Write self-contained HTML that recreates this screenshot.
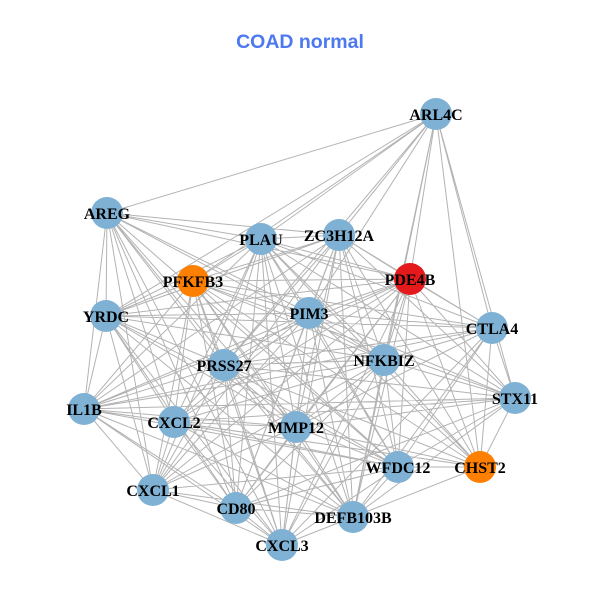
<!DOCTYPE html>
<html><head><meta charset="utf-8"><style>
html,body{margin:0;padding:0;background:#fff;}
svg{display:block;}
.l{font-family:"Liberation Serif",serif;font-weight:bold;font-size:16px;fill:#000;text-anchor:middle;}
</style></head><body>
<svg width="600" height="600" viewBox="0 0 600 600" xmlns="http://www.w3.org/2000/svg">
<rect width="600" height="600" fill="#fff"/>
<text x="300" y="48" text-anchor="middle" style="font-family:'Liberation Sans',sans-serif;font-weight:bold;font-size:19.5px;fill:#4d79f0">COAD normal</text>
<path fill="none" stroke="#b3b3b3" stroke-width="1" d="
M436 114L107 213 M436 114L261 239 M436 114L339 235 M436 114L193 281 M436 114L309 313 M436 114L224 365 M436 114L410 279 M436 114L353 517 M436 114L492 328 M436 114L515 398 M436 114L480 467 M436 114L384 360 M436 114L106 316
M107 213L106 316 M107 213L84 409 M107 213L153 490 M107 213L174 422 M107 213L224 365 M107 213L261 239 M107 213L339 235 M107 213L410 279 M107 213L309 313 M107 213L296 427 M107 213L384 360 M107 213L236 508 M107 213L282 545 M107 213L398 467 M107 213L353 517
M261 239L193 281 M261 239L106 316 M261 239L84 409 M261 239L174 422 M261 239L224 365 M261 239L309 313 M261 239L339 235 M261 239L410 279 M261 239L384 360 M261 239L296 427 M261 239L492 328 M261 239L515 398 M261 239L398 467 M261 239L480 467 M261 239L353 517 M261 239L282 545 M261 239L236 508 M261 239L153 490
M339 235L193 281 M339 235L106 316 M339 235L84 409 M339 235L174 422 M339 235L153 490 M339 235L224 365 M339 235L309 313 M339 235L410 279 M339 235L384 360 M339 235L296 427 M339 235L492 328 M339 235L515 398 M339 235L398 467 M339 235L480 467 M339 235L353 517 M339 235L282 545 M339 235L236 508
M193 281L106 316 M193 281L84 409 M193 281L174 422 M193 281L153 490 M193 281L224 365 M193 281L309 313 M193 281L410 279 M193 281L384 360 M193 281L296 427 M193 281L492 328 M193 281L515 398 M193 281L398 467 M193 281L353 517 M193 281L282 545 M193 281L236 508 M193 281L480 467
M106 316L84 409 M106 316L153 490 M106 316L174 422 M106 316L224 365 M106 316L309 313 M106 316L410 279 M106 316L384 360 M106 316L296 427 M106 316L492 328 M106 316L398 467 M106 316L353 517 M106 316L282 545 M106 316L236 508
M309 313L224 365 M309 313L410 279 M309 313L384 360 M309 313L296 427 M309 313L492 328 M309 313L515 398 M309 313L398 467 M309 313L480 467 M309 313L353 517 M309 313L282 545 M309 313L236 508 M309 313L153 490 M309 313L174 422 M309 313L84 409
M410 279L224 365 M410 279L384 360 M410 279L296 427 M410 279L492 328 M410 279L515 398 M410 279L398 467 M410 279L480 467 M410 279L353 517 M410 279L282 545 M410 279L236 508 M410 279L174 422 M410 279L84 409 M410 279L153 490
M492 328L515 398 M492 328L480 467 M492 328L384 360 M492 328L296 427 M492 328L398 467 M492 328L224 365 M492 328L174 422 M492 328L84 409 M492 328L353 517 M492 328L282 545
M384 360L515 398 M384 360L296 427 M384 360L398 467 M384 360L480 467 M384 360L353 517 M384 360L282 545 M384 360L236 508 M384 360L153 490 M384 360L174 422 M384 360L84 409 M384 360L224 365
M515 398L480 467 M515 398L296 427 M515 398L398 467 M515 398L353 517 M515 398L224 365 M515 398L174 422 M515 398L84 409 M515 398L236 508
M296 427L398 467 M296 427L480 467 M296 427L353 517 M296 427L282 545 M296 427L236 508 M296 427L153 490 M296 427L174 422 M296 427L84 409 M296 427L224 365
M398 467L480 467 M398 467L353 517 M398 467L282 545 M398 467L236 508 M398 467L153 490 M398 467L174 422 M398 467L84 409 M398 467L224 365
M480 467L353 517 M480 467L282 545 M480 467L174 422 M480 467L224 365 M480 467L84 409
M353 517L282 545 M353 517L236 508 M353 517L153 490 M353 517L174 422 M353 517L84 409 M353 517L224 365
M282 545L236 508 M282 545L153 490 M282 545L174 422 M282 545L84 409 M282 545L224 365
M236 508L153 490 M236 508L174 422 M236 508L84 409 M236 508L224 365
M153 490L174 422 M153 490L84 409 M153 490L224 365
M174 422L84 409 M174 422L224 365
M84 409L224 365
"/>
<g>
<circle cx="436" cy="114" r="16" fill="#7fb1d4"/>
<circle cx="107" cy="213" r="16" fill="#7fb1d4"/>
<circle cx="261" cy="239" r="16" fill="#7fb1d4"/>
<circle cx="339" cy="235" r="16" fill="#7fb1d4"/>
<circle cx="193" cy="281" r="16" fill="#ff7f00"/>
<circle cx="106" cy="316" r="16" fill="#7fb1d4"/>
<circle cx="309" cy="313" r="16" fill="#7fb1d4"/>
<circle cx="410" cy="279" r="16" fill="#e3191c"/>
<circle cx="492" cy="328" r="16" fill="#7fb1d4"/>
<circle cx="384" cy="360" r="16" fill="#7fb1d4"/>
<circle cx="515" cy="398" r="16" fill="#7fb1d4"/>
<circle cx="296" cy="427" r="16" fill="#7fb1d4"/>
<circle cx="398" cy="467" r="16" fill="#7fb1d4"/>
<circle cx="480" cy="467" r="16" fill="#ff7f00"/>
<circle cx="353" cy="517" r="16" fill="#7fb1d4"/>
<circle cx="282" cy="545" r="16" fill="#7fb1d4"/>
<circle cx="236" cy="508" r="16" fill="#7fb1d4"/>
<circle cx="153" cy="490" r="16" fill="#7fb1d4"/>
<circle cx="174" cy="422" r="16" fill="#7fb1d4"/>
<circle cx="84" cy="409" r="16" fill="#7fb1d4"/>
<circle cx="224" cy="365" r="16" fill="#7fb1d4"/>
</g>
<g>
<text class="l" x="436" y="120">ARL4C</text>
<text class="l" x="107" y="219">AREG</text>
<text class="l" x="261" y="245">PLAU</text>
<text class="l" x="339" y="241">ZC3H12A</text>
<text class="l" x="193" y="287">PFKFB3</text>
<text class="l" x="106" y="322">YRDC</text>
<text class="l" x="309" y="319">PIM3</text>
<text class="l" x="410" y="285">PDE4B</text>
<text class="l" x="492" y="334">CTLA4</text>
<text class="l" x="384" y="366">NFKBIZ</text>
<text class="l" x="515" y="404">STX11</text>
<text class="l" x="296" y="433">MMP12</text>
<text class="l" x="398" y="473">WFDC12</text>
<text class="l" x="480" y="473">CHST2</text>
<text class="l" x="353" y="523">DEFB103B</text>
<text class="l" x="282" y="551">CXCL3</text>
<text class="l" x="236" y="514">CD80</text>
<text class="l" x="153" y="496">CXCL1</text>
<text class="l" x="174" y="428">CXCL2</text>
<text class="l" x="84" y="415">IL1B</text>
<text class="l" x="224" y="371">PRSS27</text>
</g>
</svg>
</body></html>
